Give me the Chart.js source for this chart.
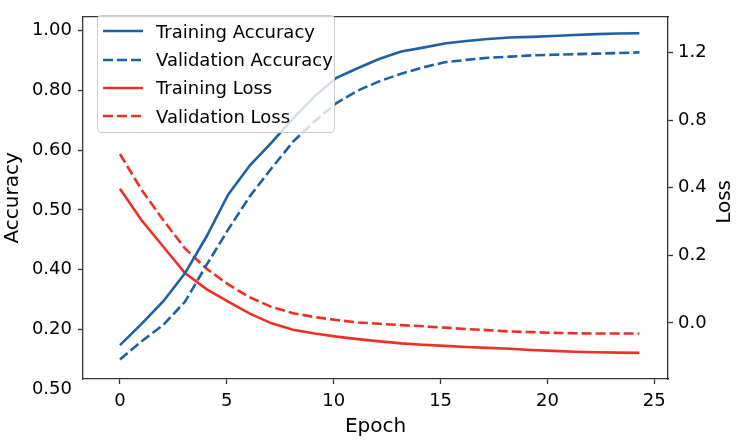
<!DOCTYPE html>
<html lang="en">
<head>
<meta charset="UTF-8">
<title>Accuracy and loss per epoch</title>
<script src="https://cdn.jsdelivr.net/npm/chart.js"></script>
<style>
  body { margin: 0; background: #fff; }
  #wrap { position: relative; width: 736px; height: 442px; }
  #legend {
    position: absolute; left: 97px; top: 15px; width: 238px; height: 118px;
    box-sizing: border-box; border: 1px solid #cccccc; border-radius: 4px;
    background: rgba(255, 255, 255, 0.8); padding-top: 1px;
    font: 18px "DejaVu Sans", sans-serif; color: #000;
  }
  .row { display: flex; align-items: center; height: 28.4px; white-space: nowrap; }
  .row svg { margin-left: 5px; margin-right: 13px; flex: none; }
</style>
</head>
<body>
<div id="wrap">
  <canvas id="chart"></canvas>
  <div id="legend"></div>
</div>

<script>
// values
const epochs = [0, 1.01, 2.03, 3.04, 4.05, 5.06, 6.08, 7.09, 8.1, 9.11, 10.13, 11.14, 12.15,
                13.16, 14.18, 15.19, 16.2, 17.21, 18.23, 19.24, 20.25, 21.26, 22.28, 23.29, 24.3];
const trainAcc = [-0.052, 0.019, 0.095, 0.188, 0.311, 0.451, 0.549, 0.625, 0.706, 0.780, 0.841, 0.874, 0.905,
                  0.929, 0.942, 0.956, 0.964, 0.971, 0.976, 0.978, 0.981, 0.984, 0.987, 0.989, 0.990];
const valAcc = [-0.100, -0.039, 0.016, 0.093, 0.216, 0.334, 0.446, 0.539, 0.628, 0.696, 0.757, 0.799, 0.830,
                0.855, 0.876, 0.893, 0.901, 0.908, 0.912, 0.916, 0.918, 0.920, 0.922, 0.924, 0.926];
const trainLoss = [0.596, 0.456, 0.338, 0.221, 0.150, 0.095, 0.041, -0.002, -0.030, -0.047, -0.061, -0.072, -0.082,
                   -0.091, -0.097, -0.102, -0.107, -0.111, -0.115, -0.120, -0.124, -0.128, -0.130, -0.132, -0.133];
const valLoss = [0.750, 0.591, 0.456, 0.331, 0.241, 0.171, 0.113, 0.071, 0.043, 0.026, 0.013, 0.002, -0.004,
                 -0.010, -0.015, -0.021, -0.027, -0.032, -0.038, -0.041, -0.044, -0.046, -0.047, -0.047, -0.047];

const epochTicks = [0, 5, 10, 15, 20, 25];
const accTickValues = [-0.2, 0, 0.2, 0.4, 0.6, 0.8, 1.0];
const accTickLabels = ['0.50', '0.20', '0.40', '0.50', '0.60', '0.80', '1.00'];
const lossTickValues = [0, 0.3, 0.6, 0.9, 1.2];
const lossTickLabels = ['0.0', '0.2', '0.4', '0.8', '1.2'];

const seriesNames = ['Training Accuracy', 'Validation Accuracy', 'Training Loss', 'Validation Loss'];
const BLUE = '#1f5fa6';
const RED = '#ec3026';
const AXIS = '#333333';

Chart.defaults.font.family = '"DejaVu Sans", sans-serif';
Chart.defaults.color = '#000';

const pts = arr => arr.map((v, i) => ({ x: epochs[i], y: v }));

const series = [
    { label: seriesNames[0], data: pts(trainAcc), color: BLUE, dash: [], axis: 'y' },
    { label: seriesNames[1], data: pts(valAcc), color: BLUE, dash: [10, 4], axis: 'y' },
    { label: seriesNames[2], data: pts(trainLoss), color: RED, dash: [], axis: 'y1' },
    { label: seriesNames[3], data: pts(valLoss), color: RED, dash: [10, 4], axis: 'y1' }
];

// y-axis title on the right reads bottom-to-top like the left one
const rightTitle = {
    id: 'rightTitle',
    afterDraw(chart) {
        const s = chart.scales.y1;
        const ctx = chart.ctx;
        ctx.save();
        ctx.translate(s.right - 11, (s.top + s.bottom) / 2 + 4);
        ctx.rotate(-Math.PI / 2);
        ctx.font = '20px "DejaVu Sans", sans-serif';
        ctx.textAlign = 'center';
        ctx.textBaseline = 'middle';
        ctx.fillStyle = '#000';
        ctx.fillText('Loss', 0, 0);
        ctx.restore();
    }
};

const tickGrid = {
    drawOnChartArea: false,
    tickLength: 5,
    tickWidth: 1.3,
    tickColor: AXIS
};

new Chart(document.getElementById('chart'), {
    type: 'line',
    data: {
        datasets: series.map(s => ({
            label: s.label,
            data: s.data,
            borderColor: s.color,
            backgroundColor: s.color,
            borderDash: s.dash,
            borderWidth: 2.6,
            pointRadius: 0,
            tension: 0,
            yAxisID: s.axis
        }))
    },
    options: {
        responsive: true,
        maintainAspectRatio: false,
        animation: false,
        layout: { padding: 0 },
        plugins: {
            legend: { display: false },
            tooltip: { enabled: false }
        },
        scales: {
            x: {
                type: 'linear',
                min: -1.73,
                max: 25.64,
                afterBuildTicks: s => { s.ticks = epochTicks.map(v => ({ value: v })); },
                ticks: { font: { size: 18 }, padding: 7, maxRotation: 0, autoSkip: false, callback: v => String(v) },
                grid: tickGrid,
                border: { color: AXIS, width: 1.3 },
                title: { display: true, text: 'Epoch', font: { size: 20 }, padding: { top: 0, bottom: 3 } },
                afterFit: s => { s.height = 63; }
            },
            xTop: {
                type: 'linear',
                position: 'top',
                min: -1.73,
                max: 25.64,
                ticks: { display: false },
                grid: { display: false, drawTicks: false },
                border: { color: AXIS, width: 1.3 },
                afterFit: s => { s.height = 5; }
            },
            y: {
                type: 'linear',
                position: 'left',
                min: -0.165,
                max: 1.045,
                afterBuildTicks: s => { s.ticks = accTickValues.map(v => ({ value: v })); },
                ticks: { font: { size: 18 }, padding: 6, autoSkip: false, callback: (v, i) => accTickLabels[i] },
                grid: {
                    ...tickGrid,
                    tickColor: ctx => (ctx.tick && ctx.tick.value < -0.165 ? 'rgba(0,0,0,0)' : AXIS)
                },
                border: { color: AXIS, width: 1.3 },
                title: { display: true, text: 'Accuracy', font: { size: 20 }, padding: { top: 1, bottom: 0 } },
                afterFit: s => { s.width = 83; }
            },
            y1: {
                type: 'linear',
                position: 'right',
                min: -0.249,
                max: 1.359,
                afterBuildTicks: s => { s.ticks = lossTickValues.map(v => ({ value: v })); },
                ticks: { font: { size: 18 }, padding: 5, autoSkip: false, callback: (v, i) => lossTickLabels[i] },
                grid: tickGrid,
                border: { color: AXIS, width: 1.3 },
                afterFit: s => { s.width = 68; }
            }
        }
    },
    plugins: [rightTitle]
});

// legend drawn over the plot, semi-transparent like the original
const legend = document.getElementById('legend');
series.forEach(s => {
    const row = document.createElement('div');
    row.className = 'row';
    const dash = s.dash.length ? ` stroke-dasharray="${s.dash.join(' ')}"` : '';
    row.innerHTML = `<svg width="40" height="6"><line x1="0" y1="3" x2="40" y2="3" stroke="${s.color}" stroke-width="2.6"${dash}/></svg><span>${s.label}</span>`;
    legend.appendChild(row);
});
</script>
</body>
</html>
